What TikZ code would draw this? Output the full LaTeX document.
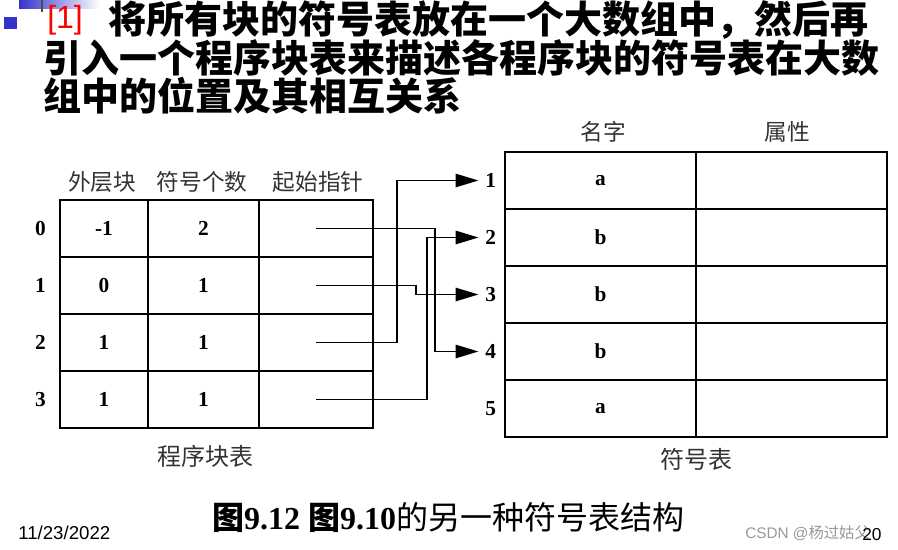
\documentclass[tikz,border=0pt]{standalone}
\usepackage{fontspec}
\setmainfont{Liberation Serif}
\setsansfont{Liberation Sans}
\newfontfamily\cjk{Noto Sans CJK SC}
\usetikzlibrary{arrows.meta, positioning}
\definecolor{slideblue}{HTML}{3333CC}
\definecolor{headgray}{HTML}{333333}

\begin{document}
\begin{tikzpicture}[
    x=0.75pt, y=-0.75pt,
    every node/.style={inner sep=0pt},
    >={Triangle[length=17pt, width=10pt]},
    lcell/.style={draw, line width=1.1pt, minimum height=42.75pt, font=\bfseries\fontsize{16}{16}\selectfont},
    rcell/.style={draw, line width=1.1pt, minimum height=42.75pt, minimum width=143.25pt, font=\bfseries\fontsize{16}{16}\selectfont},
    idx/.style={font=\bfseries\fontsize{16}{16}\selectfont},
    head/.style={font=\cjk\fontsize{17}{17}\selectfont, text=headgray},
    titleline/.style={anchor=west, font=\cjk\bfseries\fontsize{28.5}{28.5}\selectfont},
    link/.style={->, line width=1.2pt}
]
    \useasboundingbox (0,0) rectangle (898,549);

    % slide decoration
    \shade[left color=slideblue, right color=white] (19,0) rectangle (100,9);
    \draw[gray!60!black, line width=1pt] (42,0) -- (42,12);
    \fill[slideblue] (4,17) rectangle (17,29);

    % title
    \node (num) [anchor=west, text=red, font=\sffamily\fontsize{24}{24}\selectfont] at (47,20) {[1]};
    \node (t1) [titleline] at (108,20) {将所有块的符号表放在一个大数组中，然后再};
    \node (t2) [titleline] at (43,58) {引入一个程序块表来描述各程序块的符号表在大数};
    \node (t3) [titleline] at (43,96) {组中的位置及其相互关系};

    % program block table
    \node (h1) [head] at (102,182) {外层块};
    \node (h2) [head] at (202,182) {符号个数};
    \node (h3) [head] at (318,182) {起始指针};
    \foreach \u/\v [count=\i from 0] in {-1/2, 0/1, 1/1, 1/1} {
        \node[lcell, minimum width=66pt] (a\i) at (104,228.5+57*\i) {\u};
        \node[lcell, minimum width=83.25pt] (b\i) at (203.5,228.5+57*\i) {\v};
        \node[lcell, minimum width=85.5pt] (s\i) at (316,228.5+57*\i) {};
        \node[idx] (r\i) [left=10pt of a\i] {\i};
    }
    \node (cap1) [head, font=\cjk\fontsize{18}{18}\selectfont] at (205,456) {程序块表};

    % symbol table
    \node (h4) [head] at (603,132) {名字};
    \node (h5) [head] at (787,132) {属性};
    \foreach \v [count=\i] in {a,b,b,b,a} {
        \node[rcell] (m\i) at (600.5,123.5+57*\i) {\v};
        \node[rcell] (p\i) at (791.5,123.5+57*\i) {};
        \node[idx] (n\i) [left=6pt of m\i] {\i};
    }
    \node (cap2) [head, font=\cjk\fontsize{18}{18}\selectfont] at (696,459) {符号表};

    % pointers
    \draw[link, shorten >=5pt] (s0.center) -- ++(119,0) |- (n4.west);
    \draw[link, shorten >=5pt] (s1.center) -- ++(100,0) |- (n3.west);
    \draw[link, shorten >=5pt] (s2.center) -- ++(81,0) |- (n1.west);
    \draw[link, shorten >=5pt] (s3.center) -- ++(111,0) |- (n2.west);

    % footer
    \node (fig) at (448,518) {\fontsize{24}{24}\selectfont{\cjk\bfseries 图}\textbf{9.12} {\cjk\bfseries 图}\textbf{9.10}{\cjk 的另一种符号表结构}};
    \node (date) [anchor=west, font=\sffamily\fontsize{14}{14}\selectfont] at (18,533) {11/23/2022};
    \node (mark) [anchor=west, text=gray!80, font=\sffamily\fontsize{11.5}{11.5}\selectfont] at (745,533) {CSDN @{\cjk 杨过姑父}};
    \node (page) [anchor=west, font=\sffamily\fontsize{13}{13}\selectfont] at (862,535) {20};
\end{tikzpicture}
\end{document}
